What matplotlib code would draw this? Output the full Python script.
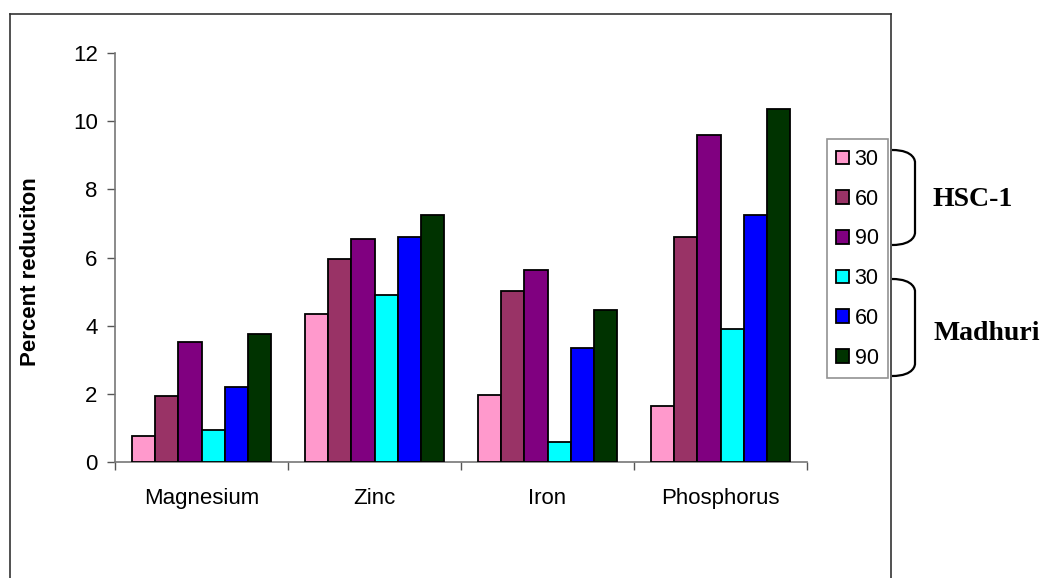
import matplotlib
matplotlib.use("Agg")
import matplotlib.pyplot as plt
import numpy as np
from matplotlib.path import Path
from matplotlib.patches import PathPatch
from matplotlib.lines import Line2D

categories = ["Magnesium", "Zinc", "Iron", "Phosphorus"]
series_labels = ["30", "60", "90", "30", "60", "90"]
hsc_30 = [0.77, 4.34, 1.98, 1.64]
hsc_60 = [1.93, 5.95, 5.01, 6.60]
hsc_90 = [3.52, 6.54, 5.62, 9.58]
mad_30 = [0.93, 4.89, 0.58, 3.90]
mad_60 = [2.20, 6.60, 3.35, 7.26]
mad_90 = [3.75, 7.26, 4.46, 10.35]
series = [hsc_30, hsc_60, hsc_90, mad_30, mad_60, mad_90]
colors = ["#FF99CC", "#993366", "#800080", "#00FFFF", "#0000FF", "#003300"]
y_ticks = [0, 2, 4, 6, 8, 10, 12]
groups = ["HSC-1", "Madhuri"]

W, H = 1042, 578
fig = plt.figure(figsize=(W / 100, H / 100), dpi=100)

def fx(px):
    return px / W

def fy(py):
    return 1 - py / H

ax = fig.add_axes([fx(115), fy(462), fx(807) - fx(115), fy(53) - fy(462)])

n = len(series)
bw = 0.8 / n
x = np.arange(len(categories))
handles = []
for i, (vals, c) in enumerate(zip(series, colors)):
    b = ax.bar(x - 0.4 + bw * (i + 0.5), vals, width=bw, color=c,
               edgecolor="black", linewidth=1.3, label=series_labels[i], zorder=3)
    handles.append(b)

ax.set_xlim(-0.5, len(categories) - 0.5)
ax.set_ylim(0, 12)
ax.set_yticks(y_ticks)
ax.set_yticklabels([str(t) for t in y_ticks], fontsize=16, family="Liberation Sans")
ax.set_xticks(x)
ax.set_xticklabels(categories, fontsize=16, family="Liberation Sans")
ax.set_xticks(np.arange(len(categories) + 1) - 0.5, minor=True)
ax.tick_params(axis="x", which="major", length=0, pad=19)
ax.tick_params(axis="x", which="minor", length=5.5, width=1, color="#555555", direction="out")
ax.tick_params(axis="y", length=5.5, width=1, color="#555555", pad=7)
for s in ["top", "right"]:
    ax.spines[s].set_visible(False)
for s in ["left", "bottom"]:
    ax.spines[s].set_color("#777777")
    ax.spines[s].set_linewidth(1.2)

fig.text(fx(31), fy(272), "Percent reduciton", rotation=90, ha="center", va="center",
         fontsize=16, fontweight="bold", family="Liberation Sans")

leg = ax.legend(handles=handles, labels=series_labels, loc="upper left",
                bbox_to_anchor=(fx(826.7), fy(139.3)), bbox_transform=fig.transFigure,
                borderaxespad=0, prop={"family": "Liberation Sans", "size": 15.5},
                handlelength=0.6, handleheight=0.6, handletextpad=0.25,
                labelspacing=0.87, borderpad=0.45, fancybox=False, frameon=True)
leg.get_frame().set_edgecolor("#777777")
leg.get_frame().set_linewidth(1.2)

# outer frame
frame_kw = dict(color="#333333", linewidth=1.2, transform=fig.transFigure)
fig.add_artist(Line2D([fx(10), fx(891)], [fy(14), fy(14)], **frame_kw))
fig.add_artist(Line2D([fx(10), fx(10)], [fy(14), fy(580)], **frame_kw))
fig.add_artist(Line2D([fx(891), fx(891)], [fy(14), fy(580)], **frame_kw))

def brace(y0, y1):
    x0, x1 = 892, 915
    r = 10
    verts = [(x0, y0), (x1, y0), (x1, y0 + r * 1.2), (x1, y0 + r * 1.2),
             (x1, y1 - r * 1.2), (x1, y1 - r * 1.2), (x1, y1), (x0, y1)]
    verts = [(fx(a), fy(b)) for a, b in verts]
    codes = [Path.MOVETO, Path.CURVE4, Path.CURVE4, Path.CURVE4,
             Path.LINETO, Path.CURVE4, Path.CURVE4, Path.CURVE4]
    p = PathPatch(Path(verts, codes), facecolor="none", edgecolor="black",
                  linewidth=1.6, transform=fig.transFigure)
    fig.add_artist(p)

brace(150, 245)
brace(279, 376)

fig.text(fx(973), fy(200), groups[0], ha="center", va="center", fontsize=20,
         fontweight="bold", family="Liberation Serif")
fig.text(fx(987), fy(334), groups[1], ha="center", va="center", fontsize=20,
         fontweight="bold", family="Liberation Serif")

fig.savefig("out.png", dpi=100)
